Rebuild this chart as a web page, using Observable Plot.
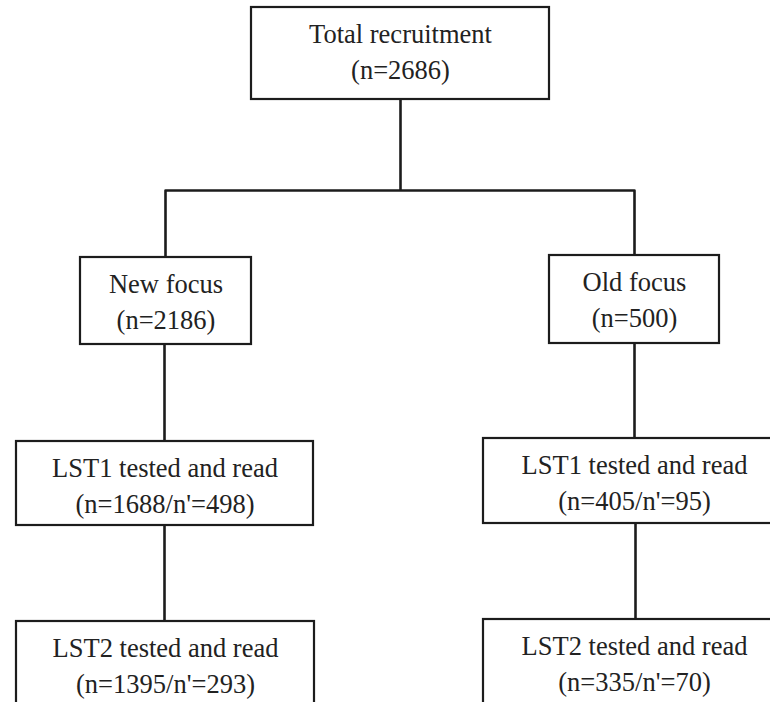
<!DOCTYPE html>
<html>
<head>
<meta charset="utf-8">
<script src="https://cdn.jsdelivr.net/npm/d3@7"></script>
<script src="https://cdn.jsdelivr.net/npm/@observablehq/plot@0.6"></script>
<style>
  html, body { margin: 0; padding: 0; background: #fff; }
</style>
</head>
<body>
<div id="chart"></div>
<script>
// ---- Data (texts of the flow diagram) ----
const titles = [
  "Total recruitment",
  "New focus",
  "Old focus",
  "LST1 tested and read",
  "LST1 tested and read",
  "LST2 tested and read",
  "LST2 tested and read"
];
const counts = [
  "(n=2686)",
  "(n=2186)",
  "(n=500)",
  "(n=1688/n'=498)",
  "(n=405/n'=95)",
  "(n=1395/n'=293)",
  "(n=335/n'=70)"
];

// ---- Layout of the boxes (diagram units) ----
const boxLeft   = [251,  80, 549,  16, 483,  16, 483];
const boxRight  = [549, 251, 719, 313, 785, 314, 785];
const boxTop    = [  7, 257, 255, 441, 438, 621, 619];
const boxBottom = [ 99, 344, 343, 525, 523, 730, 730];

// connectors: polylines, each as arrays of [x, y]
const connectors = [
  [[400, 99], [400, 190]],
  [[165, 257], [165, 190], [634, 190], [634, 255]],
  [[164, 344], [164, 441]],
  [[634, 343], [634, 438]],
  [[164, 525], [164, 621]],
  [[635, 523], [635, 619]]
];

const boxes = titles.map((t, i) => ({
  title: t,
  count: counts[i],
  x1: boxLeft[i], x2: boxRight[i], y1: boxTop[i], y2: boxBottom[i],
  cx: (boxLeft[i] + boxRight[i]) / 2
}));
const boxText = boxes.map(b => ({...b, label: b.title + "\n" + b.count}));
const linePts = connectors.flatMap((pts, k) => pts.map(([x, y]) => ({x, y, k})));

const ink = "#1c1c1c";

const chart = Plot.plot({
  width: 770,
  height: 702,
  margin: 0,
  x: {domain: [0, 770], range: [0, 770], axis: null},
  y: {domain: [0, 702], range: [0, 702], axis: null},
  marks: [
    Plot.line(linePts, {x: "x", y: "y", z: "k", stroke: ink, strokeWidth: 2.6, strokeLinejoin: "round", strokeLinecap: "butt"}),
    Plot.rect(boxes, {x1: "x1", x2: "x2", y1: "y1", y2: "y2", fill: "#fff", stroke: ink, strokeWidth: 2.2}),
    Plot.text(boxText, {
      x: "cx",
      y: d => d.y1 + 71,
      text: "label",
      lineAnchor: "bottom",
      lineHeight: 1.33,
      fontSize: 26.5,
      fontFamily: "Liberation Serif",
      fill: "#222",
      textAnchor: "middle"
    })
  ]
});
document.getElementById("chart").appendChild(chart);
</script>
</body>
</html>
